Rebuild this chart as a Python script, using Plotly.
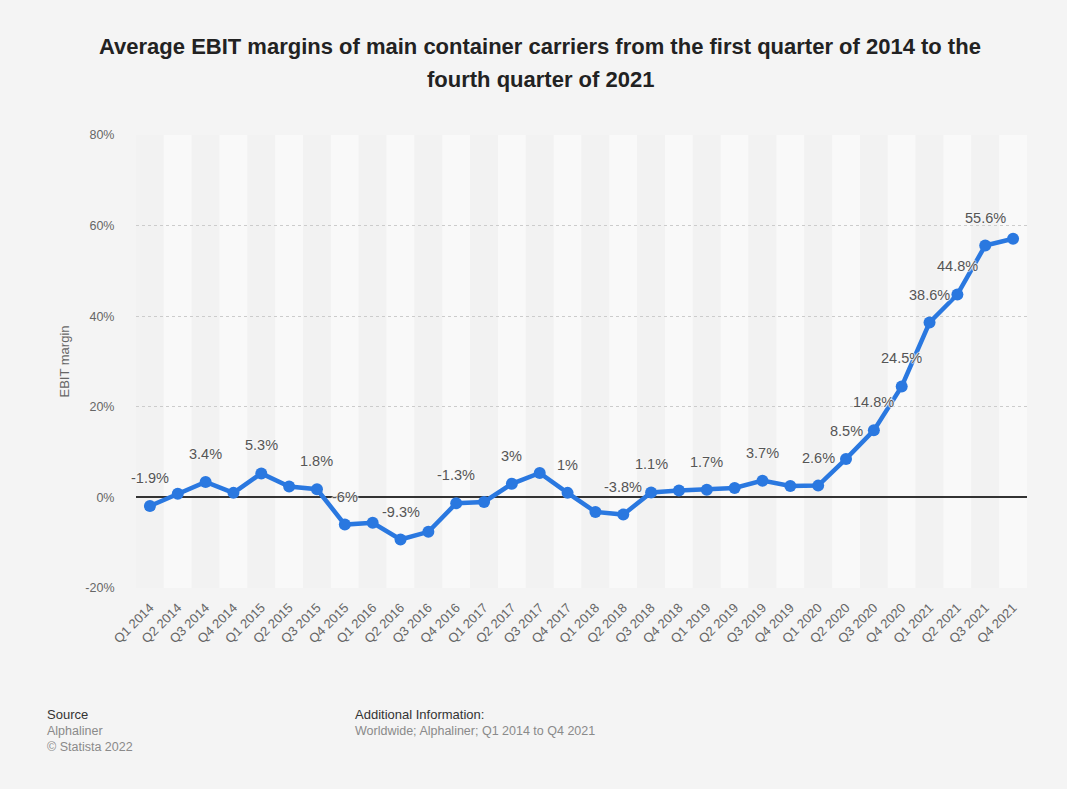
import plotly.graph_objects as go

# Quarterly EBIT margins (%) of main container carriers
quarters = [
    "Q1 2014", "Q2 2014", "Q3 2014", "Q4 2014",
    "Q1 2015", "Q2 2015", "Q3 2015", "Q4 2015",
    "Q1 2016", "Q2 2016", "Q3 2016", "Q4 2016",
    "Q1 2017", "Q2 2017", "Q3 2017", "Q4 2017",
    "Q1 2018", "Q2 2018", "Q3 2018", "Q4 2018",
    "Q1 2019", "Q2 2019", "Q3 2019", "Q4 2019",
    "Q1 2020", "Q2 2020", "Q3 2020", "Q4 2020",
    "Q1 2021", "Q2 2021", "Q3 2021", "Q4 2021",
]
ebit_margin = [
    -1.9, 0.8, 3.4, 1.0,
    5.3, 2.4, 1.8, -6.0,
    -5.6, -9.3, -7.6, -1.3,
    -1.0, 3.0, 5.4, 1.0,
    -3.2, -3.8, 1.1, 1.5,
    1.7, 2.1, 3.7, 2.5,
    2.6, 8.5, 14.8, 24.5,
    38.6, 44.8, 55.6, 57.1,
]
# Quarters whose value label is printed
labelled = [
    "Q1 2014", "Q3 2014", "Q1 2015", "Q3 2015", "Q4 2015", "Q2 2016",
    "Q4 2016", "Q2 2017", "Q4 2017", "Q2 2018", "Q3 2018", "Q1 2019",
    "Q3 2019", "Q1 2020", "Q2 2020", "Q3 2020", "Q4 2020", "Q1 2021",
    "Q2 2021", "Q3 2021",
]
y_ticks = [-20, 0, 20, 40, 60, 80]

TITLE_LINES = [
    "Average EBIT margins of main container carriers from the first quarter of 2014 to the",
    "fourth quarter of 2021",
]

W, H = 1067, 789
M_L, M_R, M_T, M_B = 136, 40, 135, 201
PW, PH = W - M_L - M_R, H - M_T - M_B


def px_x(x):
    return (x - M_L) / PW


def px_y(y):
    return (H - M_B - y) / PH


FONT = "Liberation Sans, Arial, sans-serif"
BLUE = "#2a78e0"
HALO = "1px 0 1px #f7f7f7, -1px 0 1px #f7f7f7, 0 1px 1px #f7f7f7, 0 -1px 1px #f7f7f7"

fig = go.Figure()

fig.add_trace(go.Scatter(
    x=quarters, y=ebit_margin,
    mode="lines+markers",
    line=dict(color=BLUE, width=4.5),
    marker=dict(color=BLUE, size=12),
    hovertemplate="%{x}: %{y}%<extra></extra>",
))

# alternating column bands
for i, q in enumerate(quarters):
    fig.add_shape(
        type="rect", xref="x", yref="paper",
        x0=i - 0.5, x1=i + 0.5, y0=0, y1=1,
        fillcolor="#f2f2f2" if i % 2 == 0 else "#f9f9f9",
        line=dict(width=0), layer="below",
    )

# value labels
for q, v in zip(quarters, ebit_margin):
    if q in labelled:
        fig.add_annotation(
            x=q, y=v, text=f"{v:g}%", showarrow=False,
            yshift=28,
            font=dict(family=FONT, size=14.5, color="#555555", shadow=HALO),
        )

# two-line title, centred
for k, line in enumerate(TITLE_LINES):
    fig.add_annotation(
        xref="paper", yref="paper", x=px_x(540), y=px_y(47 + 32 * k),
        xanchor="center", yanchor="middle", showarrow=False, text=line,
        font=dict(family=FONT, size=22, color="#222222", weight="bold"),
    )

# footer
fig.add_annotation(xref="paper", yref="paper", x=px_x(45), y=px_y(714),
                   xanchor="left", yanchor="middle", showarrow=False,
                   text="Source", font=dict(family=FONT, size=13, color="#333333"))
fig.add_annotation(xref="paper", yref="paper", x=px_x(45), y=px_y(739),
                   xanchor="left", yanchor="middle", showarrow=False, align="left",
                   text="Alphaliner<br>© Statista 2022",
                   font=dict(family=FONT, size=12.5, color="#8a8a8a"))
fig.add_annotation(xref="paper", yref="paper", x=px_x(353), y=px_y(714),
                   xanchor="left", yanchor="middle", showarrow=False,
                   text="Additional Information:",
                   font=dict(family=FONT, size=13, color="#333333"))
fig.add_annotation(xref="paper", yref="paper", x=px_x(353), y=px_y(731),
                   xanchor="left", yanchor="middle", showarrow=False,
                   text="Worldwide; Alphaliner; Q1 2014 to Q4 2021",
                   font=dict(family=FONT, size=12.5, color="#8a8a8a"))

fig.update_layout(
    width=W, height=H,
    margin=dict(l=M_L, r=M_R, t=M_T, b=M_B),
    paper_bgcolor="#f4f4f4",
    plot_bgcolor="#f4f4f4",
    showlegend=False,
    xaxis=dict(
        type="category", categoryorder="array", categoryarray=quarters,
        range=[-0.5, len(quarters) - 0.5],
        showgrid=False, zeroline=False, showline=False,
        tickangle=-45, ticks="outside", ticklen=6, tickcolor="rgba(0,0,0,0)",
        tickfont=dict(family=FONT, size=13, color="#666666"),
    ),
    yaxis=dict(
        range=[-20, 80], tickvals=y_ticks,
        ticktext=[f"{t}%" for t in y_ticks],
        showgrid=True, gridcolor="#cccccc", griddash="dot", gridwidth=1,
        zeroline=True, zerolinecolor="#333333", zerolinewidth=1.5,
        showline=False, ticks="outside", ticklen=18, tickcolor="rgba(0,0,0,0)",
        tickfont=dict(family=FONT, size=12.5, color="#666666"),
        title=dict(text="EBIT margin", standoff=12,
                   font=dict(family=FONT, size=13, color="#666666")),
    ),
)

fig.write_html("out.html")
